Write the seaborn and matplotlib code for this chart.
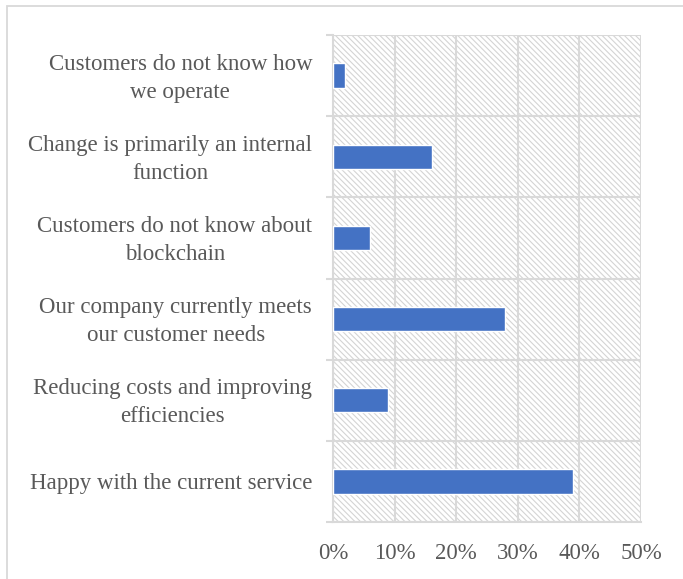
import matplotlib
matplotlib.use("Agg")
import matplotlib.pyplot as plt
import matplotlib.patches as mpatches
from matplotlib.ticker import FuncFormatter, FixedLocator
from matplotlib.transforms import ScaledTranslation
import numpy as np
import pandas as pd
import seaborn as sns

# Survey answers, listed top to bottom
reasons = [
    "Customers do not know how\nwe operate",
    "Change is primarily an internal\nfunction",
    "Customers do not know about\nblockchain",
    "Our company currently meets\nour customer needs",
    "Reducing costs and improving\nefficiencies",
    "Happy with the current service",
]
shares = [2, 16, 6, 28, 9, 39]  # percent of respondents
x_ticks = [0, 10, 20, 30, 40, 50]

TEXT = "#595959"
GRID = "#D9D9D9"
BAR = "#4472C4"

sns.set_theme(style="white")
plt.rcParams["font.family"] = ["Liberation Serif", "DejaVu Serif"]
plt.rcParams["hatch.color"] = "#D4D4D4"
plt.rcParams["hatch.linewidth"] = 0.8

df = pd.DataFrame({"reason": reasons, "share": shares})

fig = plt.figure(figsize=(6.83, 5.79), dpi=100)
ax = fig.add_axes([333 / 683, 1 - 522 / 579, (641 - 333) / 683, (522 - 35) / 579])

# hatched plot-area background
ax.add_patch(mpatches.Rectangle((0, 0), 1, 1, transform=ax.transAxes,
                                facecolor="white", edgecolor="#D4D4D4",
                                hatch="\\" * 6, linewidth=0, zorder=0))

sns.barplot(data=df, x="share", y="reason", orient="h", color=BAR,
            width=0.3, saturation=1, ax=ax, zorder=3)

ax.set_xlim(0, 50)
ax.set_ylim(len(reasons) - 0.5, -0.5)
ax.xaxis.set_major_locator(FixedLocator(x_ticks))
ax.xaxis.set_major_formatter(FuncFormatter(lambda v, _: f"{v:.0f}%"))
ax.set_xlabel("")
ax.set_ylabel("")

# gridlines: vertical at value ticks, horizontal at category boundaries
ax.grid(axis="x", which="major", color=GRID, linewidth=1.5, zorder=1)
ax.yaxis.set_minor_locator(FixedLocator(np.arange(-0.5, len(reasons), 1.0)))
ax.grid(axis="y", which="minor", color=GRID, linewidth=1.5, zorder=1)
ax.grid(axis="y", which="major", visible=False)
ax.set_axisbelow(True)

ax.tick_params(axis="y", which="major", length=0, pad=15, labelsize=16.5,
               labelcolor=TEXT)
ax.tick_params(axis="y", which="minor", length=5, width=1.5, color=GRID,
               left=True)
ax.tick_params(axis="x", which="major", length=0, pad=15, labelsize=16.5,
               labelcolor=TEXT)
lift = ScaledTranslation(0, 3.5 / 100, fig.dpi_scale_trans)
for lbl in ax.get_yticklabels():
    lbl.set_multialignment("center")
    lbl.set_linespacing(1.45)
    if "\n" in lbl.get_text():
        lbl.set_transform(lbl.get_transform() + lift)

for side in ["top", "right"]:
    ax.spines[side].set_visible(False)
for side in ["left", "bottom"]:
    ax.spines[side].set_color(GRID)
    ax.spines[side].set_linewidth(1.5)
    ax.spines[side].set_zorder(2)

# chart-area border
fig.add_artist(mpatches.Rectangle((7 / 683, -0.1), 2.0, 1 - 6 / 579 + 0.1,
                                  transform=fig.transFigure, fill=False,
                                  edgecolor=GRID, linewidth=1.3))

fig.savefig("out.png", dpi=100)
